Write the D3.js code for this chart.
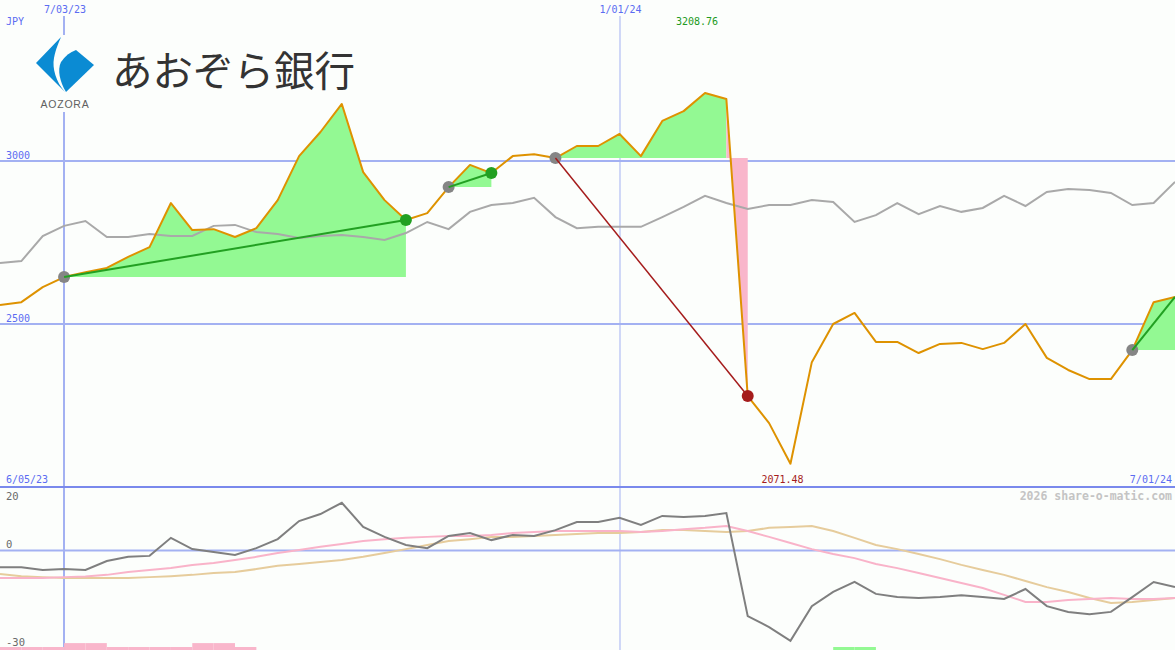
<!DOCTYPE html>
<html><head><meta charset="utf-8">
<script src="https://cdn.jsdelivr.net/npm/d3@7"></script>
<style>html,body{margin:0;padding:0;background:#fcfefc;} svg{display:block}</style>
</head><body><svg id="c" width="1175" height="650"></svg>
<script>
// ---- data (weekly, 56 points) ----
const price = [2558,2567,2613,2644,2659,2672,2706,2736,2871,2788,
  2791,2767,2794,2880,3015,3089,3175,2966,2880,2819,
  2840,2920,2988,2963,3015,3021,3009,3046,3046,3083,
  3015,3123,3153,3208.76,3190,2279,2196,2071.48,2383,2500,
  2534,2445,2445,2411,2439,2442,2423,2442,2500,2396,
  2359,2331,2331,2420,2567,2583];
const bench = [2687,2693,2770,2801,2816,2767,2767,2776,2770,2770,
  2801,2804,2782,2776,2764,2770,2773,2767,2758,2779,
  2813,2791,2844,2865,2871,2887,2828,2794,2798,2798,
  2798,2828,2859,2893,2871,2853,2865,2865,2880,2874,
  2813,2834,2871,2837,2862,2844,2856,2893,2862,2905,
  2914,2911,2902,2865,2871,2936];
const momentum = [-5.2,-5.2,-6.1,-5.8,-6.1,-3.3,-2.0,-1.7,3.9,0.4,
  -0.5,-1.4,0.7,3.5,9.1,11.3,14.8,7.3,4.2,1.7,
  0.7,4.5,5.4,3.2,4.8,4.5,6.3,8.8,8.8,10.1,
  7.9,10.7,10.4,10.7,11.6,-20.4,-23.8,-28.1,-17.3,-12.9,
  -9.8,-13.5,-14.5,-14.8,-14.5,-13.9,-14.5,-15.1,-12.0,-17.3,
  -19.1,-19.8,-19.1,-14.5,-9.8,-11.4];
const maFast = [-8.6,-8.6,-8.6,-8.3,-8.1,-7.6,-6.7,-6.1,-5.5,-4.5,
  -3.9,-3.0,-2.0,-0.8,0.1,1.1,2.0,2.9,3.5,3.9,
  4.2,4.5,4.5,4.8,5.4,5.7,6.0,6.0,6.0,6.0,
  5.7,6.0,6.6,7.0,7.6,6.0,4.2,2.3,0.4,-1.1,
  -2.4,-4.2,-5.5,-7.0,-8.6,-10.1,-11.7,-13.8,-16.0,-16.0,
  -15.4,-15.1,-14.8,-15.1,-15.1,-14.8];
const maSlow = [-7.3,-8.0,-8.3,-8.6,-8.6,-8.6,-8.6,-8.3,-8.0,-7.6,
  -7.0,-6.7,-5.8,-4.8,-4.2,-3.6,-3.0,-2.0,-0.8,0.4,
  1.7,2.9,3.5,4.2,4.2,4.5,4.8,5.1,5.4,5.4,
  5.7,6.3,6.3,6.0,5.7,6.0,7.0,7.3,7.6,6.0,
  3.9,1.7,0.4,-1.1,-2.7,-4.5,-6.1,-7.6,-9.5,-11.4,
  -12.9,-14.8,-16.3,-16.0,-15.4,-14.8];
const signalBars = [-1,-1,-1,-2.3,-2.3,-1,-1,-1,-1,-2.3,
  -2.3,-1,0,0,0,0,0,0,0,0,
  0,0,0,0,0,0,0,0,0,0,
  0,0,0,0,0,0,0,0,0,1,
  1,0,0,0,0,0,0,0,0,0,
  0,0,0,0,0,0];
const tradeEntry = [3,21,26,53];
const tradeExit  = [19,23,35,55];
const tradeOpen  = [false,false,false,true];
const priceTicks = [3000,2500];
const momTicks = [20,0,-30];
const dateGridIdx = [3,29];
const dateGridLabels = ["7/03/23","1/01/24"];
const startLabel = "6/05/23", endLabel = "7/01/24";
const currency = "JPY";
const credit = "2026 share-o-matic.com";
const bankName = "あおぞら銀行", bankLatin = "AOZORA";

// ---- scales ----
const W = 1175, H = 650;
const svg = d3.select("#c");
const x = d3.scaleLinear().domain([0, price.length - 1]).range([0, W]);
const y = d3.scaleLinear().domain([2000, 3500]).range([487, -2]);
const yB = d3.scaleLinear().domain([-30, 20]).range([647, 486]);
const mono = "'DejaVu Sans Mono', monospace";
const gridC = "#a3b1f2", labC = "#5b6cf2";
const green = "#93f993", pink = "#f9b6cb";

svg.append("rect").attr("width", W).attr("height", H).attr("fill", "#fcfefc");

// horizontal gridlines
svg.selectAll(".hg").data(priceTicks).join("line")
  .attr("x1", 0).attr("x2", W).attr("y1", d => y(d)).attr("y2", d => y(d))
  .attr("stroke", gridC).attr("stroke-width", 2);
svg.append("line").attr("x1", 0).attr("x2", W).attr("y1", yB(0)).attr("y2", yB(0))
  .attr("stroke", gridC).attr("stroke-width", 2);
// vertical gridlines
svg.selectAll(".vg").data(dateGridIdx).join("line")
  .attr("x1", d => Math.round(x(d))).attr("x2", d => Math.round(x(d)))
  .attr("y1", 16).attr("y2", H)
  .attr("stroke", gridC).attr("stroke-width", (d, i) => i === 0 ? 2 : 1);

// trade fills
const defs = svg.append("defs");
tradeEntry.forEach((e, k) => {
  const xe = tradeExit[k];
  const base = price[e];
  const win = price[xe] >= base;
  const area = d3.area().x(i => x(i)).y0(y(base)).y1(i => y(price[i]));
  defs.append("clipPath").attr("id", "up" + k).append("rect")
    .attr("x", 0).attr("y", -10).attr("width", W).attr("height", y(base) + 10);
  defs.append("clipPath").attr("id", "dn" + k).append("rect")
    .attr("x", 0).attr("y", y(base)).attr("width", W).attr("height", H);
  const upIdx = win ? d3.range(e, xe + 1) : d3.range(e, xe);
  svg.append("path").attr("d", area(upIdx)).attr("fill", green).attr("clip-path", `url(#up${k})`);
  if (win) {
    svg.append("path").attr("d", area(upIdx)).attr("fill", pink).attr("clip-path", `url(#dn${k})`);
  } else {
    svg.append("path").attr("d", area(d3.range(e, xe - 1))).attr("fill", pink).attr("clip-path", `url(#dn${k})`);
    svg.append("path").attr("d", area([xe - 1, xe])).attr("fill", pink);
  }
});

// separator
svg.append("line").attr("x1", 0).attr("x2", W).attr("y1", 487).attr("y2", 487)
  .attr("stroke", "#7a89ec").attr("stroke-width", 2);

// bench line
const lineP = d3.line().x((d, i) => x(i)).y(d => y(d));
svg.append("path").attr("d", lineP(bench)).attr("fill", "none")
  .attr("stroke", "#a9a9a9").attr("stroke-width", 2);
// price line
svg.append("path").attr("d", lineP(price)).attr("fill", "none")
  .attr("stroke", "#de9200").attr("stroke-width", 2).attr("stroke-linejoin", "round");

// markers & trade lines
tradeEntry.forEach((e, k) => {
  const xe = tradeExit[k];
  const win = price[xe] >= price[e];
  svg.append("circle").attr("cx", x(e)).attr("cy", y(price[e])).attr("r", 6).attr("fill", "#858585");
  if (!tradeOpen[k]) {
    svg.append("circle").attr("cx", x(xe)).attr("cy", y(price[xe])).attr("r", 6)
      .attr("fill", win ? "#22a022" : "#a51c1c");
  }
  svg.append("line").attr("x1", x(e)).attr("y1", y(price[e])).attr("x2", x(xe)).attr("y2", y(price[xe]))
    .attr("stroke", win ? "#22a022" : "#a51c1c").attr("stroke-width", win ? 2 : 1.5);
});

// bottom panel
const lineB = d3.line().x((d, i) => x(i)).y(d => yB(d));
svg.append("path").attr("d", lineB(maSlow)).attr("fill", "none").attr("stroke", "#e6cc9c").attr("stroke-width", 2);
svg.append("path").attr("d", lineB(maFast)).attr("fill", "none").attr("stroke", "#f9b3c9").attr("stroke-width", 2);
svg.append("path").attr("d", lineB(momentum)).attr("fill", "none").attr("stroke", "#7f7f7f").attr("stroke-width", 2);
const barH = d3.scaleLinear().domain([0, 1]).range([0, 3]);
svg.selectAll(".sb").data(signalBars.map((v, i) => ({v, i})).filter(d => d.v !== 0)).join("rect")
  .attr("x", d => x(d.i)).attr("width", d => x(d.i + 1) - x(d.i))
  .attr("y", d => H - barH(Math.abs(d.v))).attr("height", d => barH(Math.abs(d.v)))
  .attr("fill", d => d.v < 0 ? pink : green);

// logo
const logo = svg.append("g");
logo.append("rect").attr("x", 30).attr("y", 35).attr("width", 72).attr("height", 77).attr("fill", "#fcfefc");
logo.append("path").attr("d", "M61,37 L36,63 L65,92 C56,82 52,68 54,58 C56,48 59,42 61,37 Z").attr("fill", "#0b8bd3");
logo.append("path").attr("d", "M76,50 L94,65 L66,92 C60,82 57,70 61,62 C65,56 70,52 76,50 Z").attr("fill", "#0b8bd3");
logo.append("text").attr("x", 65).attr("y", 108).attr("text-anchor", "middle")
  .attr("font-family", "'Liberation Sans', Arial, sans-serif").attr("font-size", 10.5)
  .attr("letter-spacing", 0.8).attr("fill", "#606060").text(bankLatin);
logo.append("text").attr("x", 112).attr("y", 86)
  .attr("font-family", "'Noto Sans CJK JP', sans-serif").attr("font-size", 40.5)
  .attr("fill", "#333333").text(bankName);

// labels
const T = (tx, ty, s, opts = {}) => svg.append("text").attr("x", tx).attr("y", ty)
  .attr("font-family", mono).attr("font-size", opts.size || 10)
  .attr("font-weight", opts.weight || "normal")
  .attr("text-anchor", opts.anchor || "start").attr("fill", opts.fill || labC).text(s);
T(6, 25, currency);
dateGridIdx.forEach((d, i) => T(x(d) + 1, 13, dateGridLabels[i], {anchor: "middle"}));
priceTicks.forEach(t => T(6, y(t) - 2, String(t)));
T(6, 483, startLabel);
T(1172, 483, endLabel, {anchor: "end"});
const iMax = d3.maxIndex(price), iMin = d3.minIndex(price);
T(x(iMax) - 29, 25, price[iMax].toFixed(2), {fill: "#229a22"});
T(x(iMin) - 29, 483, price[iMin].toFixed(2), {fill: "#a51c1c"});
T(1172, 500, credit, {anchor: "end", fill: "#c4c4c4", weight: "bold", size: 11.5});
momTicks.forEach(t => T(6, t === 20 ? 500 : t === 0 ? yB(0) - 2 : 646, String(t), {fill: "#6a6a6a", size: 10.5}));
</script></body></html>
